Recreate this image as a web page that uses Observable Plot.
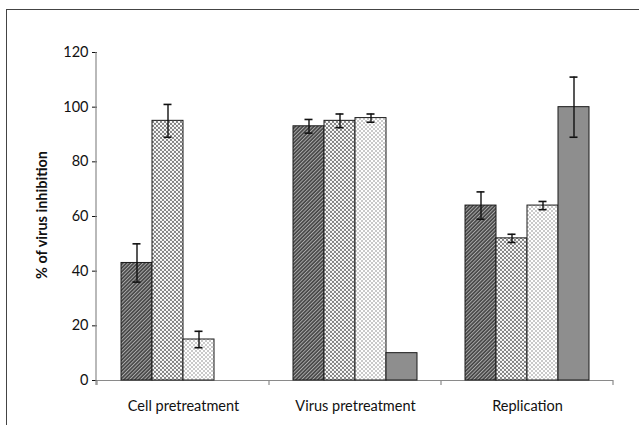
<!DOCTYPE html>
<html>
<head>
<meta charset="utf-8">
<script src="https://cdn.jsdelivr.net/npm/d3@7"></script>
<script src="https://cdn.jsdelivr.net/npm/@observablehq/plot@0.6"></script>
<style>
  html, body { margin: 0; padding: 0; background: #fff; }
  #wrap { position: relative; width: 639px; height: 425px; overflow: hidden; font-family: Lato, "Open Sans", sans-serif; }
  #border { position: absolute; left: 6px; top: 9px; width: 700px; height: 500px; border: 1px solid #444; box-sizing: border-box; }
  #ylabel { position: absolute; left: 41px; top: 215px; transform: translate(-50%, -50%) rotate(-90deg); white-space: nowrap; font-weight: bold; font-size: 14.5px; color: #111; }
  #chart { position: absolute; left: 0; top: 0; }
</style>
</head>
<body>
<div id="wrap">
  <div id="border"></div>
  <div id="chart"></div>
  <div id="ylabel">% of virus inhibition</div>
</div>
<script>
const groups = ["Cell pretreatment", "Virus pretreatment", "Replication"];
const series = ["Series 1", "Series 2", "Series 3", "Series 4"];
const values = [
  [43, 95, 15, null],
  [93, 95, 96, 10],
  [64, 52, 64, 100]
];
const errors = [
  [7, 6, 3, null],
  [2.5, 2.5, 1.5, null],
  [5, 1.5, 1.5, 11]
];
const yTicks = [0, 20, 40, 60, 80, 100, 120];

const rows = [];
groups.forEach((g, i) => series.forEach((s, j) => {
  if (values[i][j] != null) rows.push({group: g, series: s, value: values[i][j], err: errors[i][j]});
}));
const errRows = rows.filter(d => d.err != null);

const W = 639, H = 425, mL = 96, mR = 25, mT = 52, mB = 45;

const plot = Plot.plot({
  width: W,
  height: H,
  marginLeft: mL,
  marginRight: mR,
  marginTop: mT,
  marginBottom: mB,
  style: {fontFamily: "Lato, 'Open Sans', sans-serif", fontSize: "14.5px", color: "#111", background: "transparent"},
  fx: {domain: groups, paddingInner: 0, paddingOuter: 0, axis: "bottom", tickSize: 0, tickPadding: 20, label: null},
  x: {domain: series, paddingInner: 0, paddingOuter: 0.77, axis: null},
  y: {domain: [0, 120], ticks: yTicks, tickSize: 5, tickPadding: 4, label: null},
  color: {type: "ordinal", domain: series, range: ["url(#pat1)", "url(#pat2)", "url(#pat3)", "#8e8e8e"]},
  marks: [
    Plot.ruleY([0], {stroke: "#8a8a8a", strokeWidth: 1.2}),
    Plot.barY(rows, {fx: "group", x: "series", y: "value", fill: "series", stroke: "#1a1a1a", strokeWidth: 1}),
    Plot.ruleX(errRows, {fx: "group", x: "series", y1: d => d.value - d.err, y2: d => d.value + d.err, stroke: "#111", strokeWidth: 1.4}),
    Plot.tickY(errRows, {fx: "group", x: "series", y: d => d.value + d.err, stroke: "#111", strokeWidth: 1.6, insetLeft: 11.5, insetRight: 11.5}),
    Plot.tickY(errRows, {fx: "group", x: "series", y: d => d.value - d.err, stroke: "#111", strokeWidth: 1.6, insetLeft: 11.5, insetRight: 11.5})
  ]
});

// pattern definitions
const svg = d3.select(plot.tagName.toLowerCase() === "svg" ? plot : plot.querySelector("svg"));
const defs = svg.insert("defs", ":first-child");
const p1 = defs.append("pattern").attr("id", "pat1").attr("patternUnits", "userSpaceOnUse")
  .attr("width", 2.6).attr("height", 2.6).attr("patternTransform", "rotate(45)");
p1.append("rect").attr("width", 2.6).attr("height", 2.6).attr("fill", "#444");
p1.append("rect").attr("x", 0).attr("width", 1).attr("height", 2.6).attr("fill", "#aaa");

const p2 = defs.append("pattern").attr("id", "pat2").attr("patternUnits", "userSpaceOnUse")
  .attr("width", 4).attr("height", 4);
p2.append("rect").attr("width", 4).attr("height", 4).attr("fill", "#7a7a7a");
[[0,0],[4,0],[0,4],[4,4],[2,2]].forEach(([cx, cy]) =>
  p2.append("circle").attr("cx", cx).attr("cy", cy).attr("r", 1.15).attr("fill", "#fff"));

const p3 = defs.append("pattern").attr("id", "pat3").attr("patternUnits", "userSpaceOnUse")
  .attr("width", 4).attr("height", 4);
p3.append("rect").attr("width", 4).attr("height", 4).attr("fill", "#fff");
[[1,1],[3,3]].forEach(([cx, cy]) =>
  p3.append("circle").attr("cx", cx).attr("cy", cy).attr("r", 0.8).attr("fill", "#888"));

// y axis line and category boundary ticks, positioned from Plot's scales
const ys = plot.scale("y"), fxs = plot.scale("fx");
const y0 = ys.apply(0), yTop = ys.apply(120);
const deco = svg.append("g").attr("stroke", "#8a8a8a").attr("stroke-width", 1.2);
deco.append("line").attr("x1", mL).attr("x2", mL).attr("y1", yTop).attr("y2", y0 + 5);
const edges = groups.map(g => fxs.apply(g));
edges.push(fxs.apply(groups[groups.length - 1]) + fxs.bandwidth);
edges.forEach(x => deco.append("line").attr("x1", x).attr("x2", x).attr("y1", y0).attr("y2", y0 + 5));
svg.selectAll("g[aria-label='y-axis tick']").attr("stroke", "#8a8a8a");

document.getElementById("chart").appendChild(plot);
</script>
</body>
</html>
